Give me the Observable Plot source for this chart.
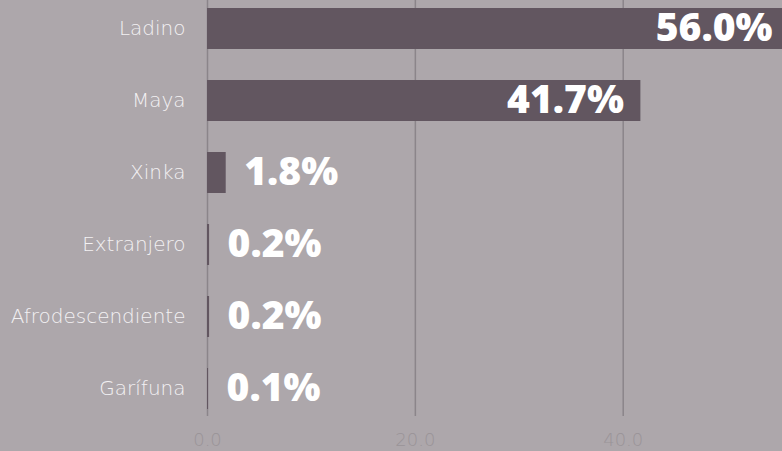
<!DOCTYPE html>
<html><head><meta charset="utf-8">
<script src="https://cdn.jsdelivr.net/npm/d3@7"></script>
<script src="https://cdn.jsdelivr.net/npm/@observablehq/plot@0.6"></script>
<style>
html,body{margin:0;padding:0;overflow:hidden;background:#ada7ab;}
#chart{width:782px;height:451px;overflow:hidden;}
</style></head><body><div id="chart"></div>
<script>
const categories = ["Ladino","Maya","Xinka","Extranjero","Afrodescendiente","Garífuna"];
const values = [56.0, 41.7, 1.8, 0.2, 0.2, 0.1];
const labels = ["56.0%","41.7%","1.8%","0.2%","0.2%","0.1%"];
const tickValues = [0, 20, 40];
const tickLabels = ["0.0","20.0","40.0"];

const data = categories.map((c,i)=>({cat:c, v:values[i], label:labels[i], inside: values[i] > 20}));

const plot = Plot.plot({
  width: 782, height: 451,
  marginTop: 0, marginBottom: 35, marginLeft: 207, marginRight: 0,
  style: {background: "transparent", fontFamily: "'Open Sans', sans-serif", overflow: "visible"},
  x: {domain: [0, 56], range: [207, 789]},
  y: {domain: categories, range: [7, 411], paddingInner: 0.43, paddingOuter: 0},
  marks: [
    Plot.ruleX(tickValues, {stroke: "#8b858a", strokeWidth: 1.5}),
    Plot.barX(data, {x: "v", y: "cat", fill: "#625660"}),
    Plot.text(data.filter(d=>d.inside), {x: "v", y: "cat", text: "label", textAnchor: "end", dx: -17, fill: "white", fontSize: 39, fontWeight: 800}),
    Plot.text(data.filter(d=>!d.inside), {x: "v", y: "cat", text: "label", textAnchor: "start", dx: 18, fill: "white", fontSize: 39, fontWeight: 800}),
    Plot.axisY({tickSize: 0, tickPadding: 22, color: "#f3f1f3", label: null}),
    Plot.axisX({ticks: tickValues, tickFormat: (d,i)=>tickLabels[i], tickSize: 0, tickPadding: 17, color: "#9a9498", label: null})
  ]
});
document.getElementById("chart").appendChild(plot);
d3.select(plot).selectAll("text").each(function(){
  const t = this.textContent;
  if (categories.includes(t)) {
    d3.select(this).style("font-size","20px").style("font-family","'DejaVu Sans', sans-serif").style("font-weight","300");
  } else if (tickLabels.includes(t)) {
    d3.select(this).style("font-size","18px").style("font-family","'DejaVu Sans', sans-serif").style("font-weight","300");
  }
});
</script></body></html>
